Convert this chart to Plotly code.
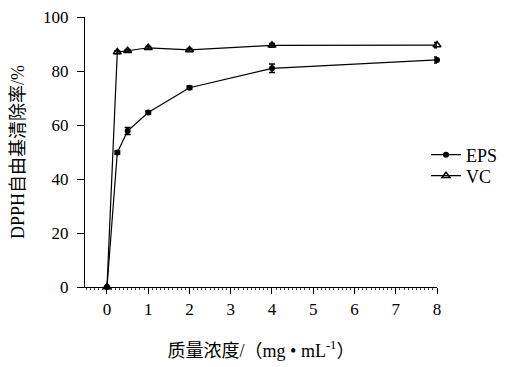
import plotly.graph_objects as go

conc = [0, 0.25, 0.5, 1, 2, 4, 8]
eps = [0, 49.8, 57.8, 64.6, 73.8, 81.0, 84.1]
eps_err = [0, 0.6, 1.3, 0.6, 0.6, 1.6, 1.1]
vc = [0, 87.0, 87.5, 88.6, 87.8, 89.5, 89.6]
vc_err = [0, 0.5, 0.5, 0.5, 0.5, 0.7, 1.0]
xticks = [0, 1, 2, 3, 4, 5, 6, 7, 8]
yticks = [0, 20, 40, 60, 80, 100]

font = "Liberation Serif, Times New Roman, Noto Sans CJK SC, serif"

fig = go.Figure()
fig.add_trace(go.Scatter(
    x=conc, y=eps, name="EPS", mode="lines+markers", legend="legend",
    line=dict(color="black", width=1.2),
    marker=dict(symbol="circle", size=6, color="black"),
    error_y=dict(type="data", array=eps_err, color="black", thickness=1.5, width=3),
    cliponaxis=False,
))
fig.add_trace(go.Scatter(
    x=conc, y=vc, name="VC", mode="lines+markers", legend="legend2",
    line=dict(color="black", width=1.2),
    marker=dict(symbol="triangle-up-open", size=7, color="black", line=dict(width=1.5, color="black")),
    error_y=dict(type="data", array=vc_err, color="black", thickness=1.5, width=3),
    cliponaxis=False,
))

leg_common = dict(xref="container", yref="container", x=0.841,
                  xanchor="left", yanchor="middle",
                  font=dict(size=18), bgcolor="rgba(0,0,0,0)", itemwidth=30)

fig.update_layout(
    width=497, height=359,
    margin=dict(l=77, r=68, t=9, b=80, autoexpand=False),
    paper_bgcolor="white", plot_bgcolor="white",
    font=dict(family=font, size=17, color="black"),
    showlegend=True,
    legend=dict(y=0.5905, **leg_common),
    legend2=dict(y=0.532, **leg_common),
    xaxis=dict(
        range=[-0.533, 8], tickmode="array", tickvals=xticks,
        ticktext=[str(v) for v in xticks], automargin=False,
        showline=True, linecolor="black", linewidth=1.2,
        ticks="outside", ticklen=6, tickcolor="black", tickwidth=1.2,
        ticklabeloverflow="allow",
        showgrid=False, zeroline=False,
        minor=dict(tickmode="linear", tick0=0, dtick=0.1, ticks="outside",
                   ticklen=2, tickcolor="#444", tickwidth=1),
        title=dict(text="质量浓度/（mg • mL<sup>-1</sup>）", standoff=26,
                   font=dict(size=18)),
    ),
    yaxis=dict(
        range=[0, 100], tickmode="array", tickvals=yticks, automargin=False,
        showline=True, linecolor="black", linewidth=1.2,
        ticks="outside", ticklen=7, tickcolor="black", tickwidth=1.2,
        ticklabelstandoff=5, ticklabeloverflow="allow",
        showgrid=False, zeroline=False,
        title=dict(text="DPPH自由基清除率/%", standoff=22, font=dict(size=18)),
    ),
)

fig.write_html("out.html")
